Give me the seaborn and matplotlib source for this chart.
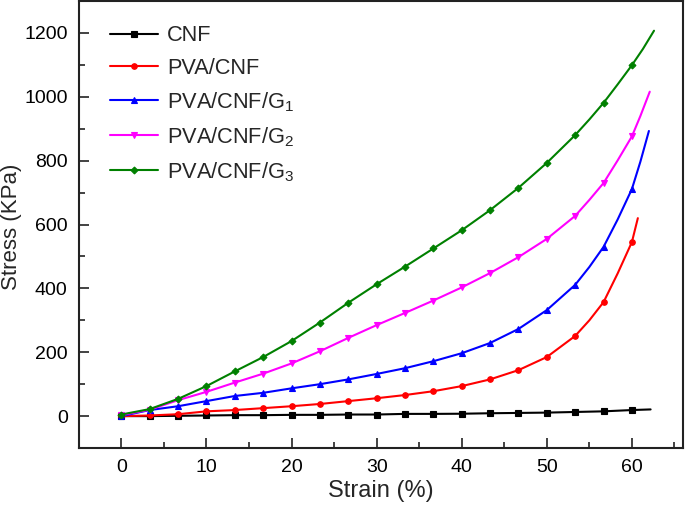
import numpy as np
import pandas as pd
import matplotlib
matplotlib.use("Agg")
import matplotlib.pyplot as plt
import seaborn as sns
from matplotlib.ticker import MultipleLocator

# Marker positions (strain, %) shared by all curves
strain = [0, 3.33, 6.67, 10, 13.33, 16.67, 20, 23.33, 26.67, 30, 33.33,
          36.67, 40, 43.33, 46.67, 50, 53.33, 56.67, 60]

cnf = [0, 0, 1, 2, 3, 3, 4, 4, 5, 5, 7, 7, 7.5, 9, 10, 11, 13, 15, 19]
pva_cnf = [0, 2, 6, 15, 19, 25, 31, 38, 47, 56, 66, 78, 94, 115, 144, 185, 251, 357, 545]
pva_cnf_g1 = [0, 19, 31, 47, 63, 73, 87, 100, 115, 132, 150, 172, 197, 229, 273, 332, 411, 530, 711]
pva_cnf_g2 = [3, 20, 50, 76, 105, 133, 165, 203, 245, 285, 323, 362, 403, 448, 498, 555, 627, 730, 876]
pva_cnf_g3 = [5, 22, 54, 94, 140, 185, 235, 293, 355, 413, 468, 525, 582, 645, 715, 793, 880, 981, 1099]

# extra points read off the smooth line between markers (no marker drawn)
cnf_line = [(55, 14), (58.33, 17), (62.2, 21)]
pva_cnf_line = [(55, 300), (58.33, 447), (60.7, 620)]
pva_cnf_g1_line = [(55, 467), (58.33, 616), (61, 797), (62.0, 893)]
pva_cnf_g2_line = [(55, 677), (58.33, 801), (61, 940), (62.1, 1016)]
pva_cnf_g3_line = [(55, 929), (58.33, 1039), (61.3, 1150), (62.6, 1207)]

labels = ['CNF', 'PVA/CNF', r'PVA/CNF/G$_1$', r'PVA/CNF/G$_2$', r'PVA/CNF/G$_3$']
series = [cnf, pva_cnf, pva_cnf_g1, pva_cnf_g2, pva_cnf_g3]
extras = [cnf_line, pva_cnf_line, pva_cnf_g1_line, pva_cnf_g2_line, pva_cnf_g3_line]
colors = ['#000000', '#ff0000', '#0000ff', '#ff00ff', '#008000']
markers = ['s', 'o', '^', 'v', 'D']

sns.set_theme(style="white")
plt.rcParams['font.family'] = ['Liberation Sans', 'DejaVu Sans']
plt.rcParams['mathtext.fontset'] = 'custom'
plt.rcParams['mathtext.rm'] = 'Liberation Sans'
plt.rcParams['mathtext.it'] = 'Liberation Sans'

fig = plt.figure(figsize=(6.85, 5.08), dpi=100)
ax = fig.add_axes([0.115, 0.118, 0.882, 0.88])

for i, vals in enumerate(series):
    df = pd.DataFrame({'x': strain + [p[0] for p in extras[i]],
                       'y': vals + [p[1] for p in extras[i]],
                       'm': [True] * len(strain) + [False] * len(extras[i])})
    df = df.sort_values('x').reset_index(drop=True)
    sns.lineplot(data=df, x='x', y='y', ax=ax, color=colors[i], marker=markers[i],
                 markersize=4 if markers[i] != 'D' else 3.5, markeredgewidth=0.8,
                 markeredgecolor=colors[i], linewidth=1.5, label=labels[i],
                 markevery=list(df.index[df['m']]), sort=False)

ax.set_xlim(-5, 66)
ax.set_ylim(-100, 1300)
ax.xaxis.set_major_locator(MultipleLocator(10))
ax.xaxis.set_minor_locator(MultipleLocator(5))
ax.yaxis.set_major_locator(MultipleLocator(200))
ax.yaxis.set_minor_locator(MultipleLocator(100))
ax.tick_params(which='both', direction='in', top=False, right=False,
               bottom=True, left=True, width=1.2, colors='#222222', labelcolor='black')
ax.tick_params(which='major', length=7, labelsize=14, pad=8)
ax.tick_params(which='minor', length=4)
for s in ax.spines.values():
    s.set_linewidth(1.5)
    s.set_color('#222222')

ax.set_xlabel('Strain (%)', fontsize=17, labelpad=3)
ax.set_ylabel('Stress (KPa)', fontsize=16)
ax.yaxis.set_label_coords(-0.094, 0.494)

ax.legend(loc='upper left', bbox_to_anchor=(0.038, 0.965), borderaxespad=0,
          frameon=False, fontsize=15.7, handlelength=2.2, handletextpad=0.4,
          labelspacing=0.52)

fig.savefig('out.png', dpi=100)
